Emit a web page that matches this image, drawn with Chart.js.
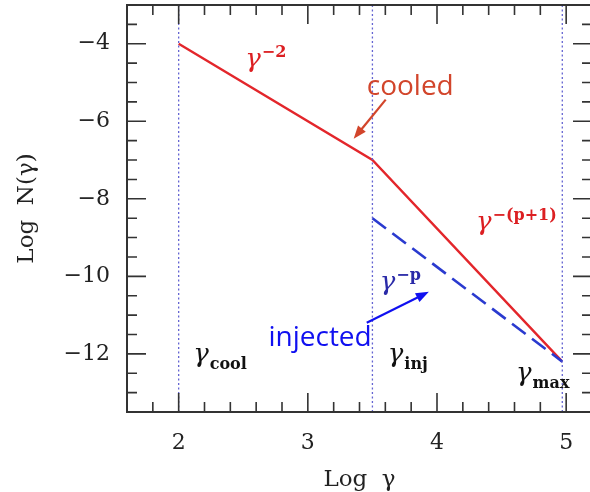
<!DOCTYPE html>
<html>
<head>
<meta charset="utf-8">
<script src="https://cdn.jsdelivr.net/npm/chart.js@4.4.1/dist/chart.umd.min.js"></script>
<style>
  html, body { margin: 0; padding: 0; background: #fff; overflow: hidden; }
  #wrap { width: 600px; height: 492px; }
</style>
</head>
<body>
<div id="wrap"><canvas id="spectrum"></canvas></div>
<script>
// Broken power-law electron spectrum, log N(gamma) against log gamma
const cooledX = [2, 3.5, 4.97];
const cooledY = [-4, -7, -12.2];
const injectedX = [3.5, 4.97];
const injectedY = [-8.5, -12.2];
const breakX = [2, 3.5, 4.97];          // gamma_cool, gamma_inj, gamma_max
const xTickLabels = [2, 3, 4, 5];
const yTickLabels = [-4, -6, -8, -10, -12];
const xRange = [1.6, 5.2];
const yRange = [-13.5, -3];

const SERIF = '"DejaVu Serif", "Liberation Serif", serif';
const SANS = '"Open Sans", "Noto Sans", sans-serif';

const toPoints = (xs, ys) => xs.map((x, i) => ({ x: x, y: ys[i] }));

// text placed in data units: gamma with super/subscript
const gammaLabels = [
  { x: 2.516, y: -4.59, script: '\u22122', sup: true, color: '#dc1f22' },
  { x: 4.302, y: -8.80, script: '\u2212(p+1)', sup: true, color: '#dc1f22' },
  { x: 3.557, y: -10.35, script: '\u2212p', sup: true, color: '#2a2aa8' },
  { x: 2.112, y: -12.20, script: 'cool', sup: false, color: '#111' },
  { x: 3.619, y: -12.20, script: 'inj', sup: false, color: '#111' },
  { x: 4.612, y: -12.71, script: 'max', sup: false, color: '#111' }
];
const callouts = [
  { text: 'cooled', x: 3.456, y: -5.31, from: [3.603, -5.44], to: [3.355, -6.45], color: '#d2452b' },
  { text: 'injected', x: 2.695, y: -11.79, from: [3.456, -11.2], to: [3.937, -10.40], color: '#1010f0' }
];

function gammaLabel(ctx, px, py, item) {
  ctx.fillStyle = item.color;
  ctx.textAlign = 'left';
  ctx.textBaseline = 'alphabetic';
  ctx.font = 'italic 26px ' + SERIF;
  ctx.fillText('\u03b3', px, py);
  const w = ctx.measureText('\u03b3').width;
  ctx.font = 'bold 16px ' + SERIF;
  ctx.fillText(item.script, px + w + 1, item.sup ? py - 10 : py + 7);
}

function arrow(ctx, x1, y1, x2, y2, color) {
  const a = Math.atan2(y2 - y1, x2 - x1);
  const head = 13, half = 5;
  ctx.strokeStyle = color;
  ctx.fillStyle = color;
  ctx.lineWidth = 2.2;
  ctx.beginPath();
  ctx.moveTo(x1, y1);
  ctx.lineTo(x2 - head * Math.cos(a) * 0.8, y2 - head * Math.sin(a) * 0.8);
  ctx.stroke();
  ctx.beginPath();
  ctx.moveTo(x2, y2);
  ctx.lineTo(x2 - head * Math.cos(a) + half * Math.sin(a), y2 - head * Math.sin(a) - half * Math.cos(a));
  ctx.lineTo(x2 - head * Math.cos(a) - half * Math.sin(a), y2 - head * Math.sin(a) + half * Math.cos(a));
  ctx.closePath();
  ctx.fill();
}

// box frame with inward ticks on all four sides
const framePlugin = {
  id: 'frame',
  afterDatasetsDraw(chart) {
    const { ctx, chartArea: { left, right, top, bottom } } = chart;
    const xs = chart.scales.x, ys = chart.scales.y;
    ctx.save();
    ctx.strokeStyle = '#333';
    ctx.lineWidth = 2;
    ctx.strokeRect(left, top, right - left, bottom - top);

    ctx.lineWidth = 1.6;
    ctx.beginPath();
    for (let v = xRange[0]; v <= xRange[1] + 1e-6; v += 0.2) {
      const val = Math.round(v * 10) / 10;
      const len = xTickLabels.includes(val) ? 19 : 10;
      const px = xs.getPixelForValue(val);
      ctx.moveTo(px, bottom); ctx.lineTo(px, bottom - len);
      ctx.moveTo(px, top); ctx.lineTo(px, top + len);
    }
    for (let v = yRange[0]; v <= yRange[1] + 1e-6; v += 0.5) {
      const len = yTickLabels.includes(v) ? 19 : 10;
      const py = ys.getPixelForValue(v);
      ctx.moveTo(left, py); ctx.lineTo(left + len, py);
      ctx.moveTo(right, py); ctx.lineTo(right - len, py);
    }
    ctx.stroke();
    ctx.restore();
  },
  afterDraw(chart) {
    const { ctx } = chart;
    const xs = chart.scales.x, ys = chart.scales.y;
    ctx.save();
    gammaLabels.forEach(item => {
      gammaLabel(ctx, xs.getPixelForValue(item.x), ys.getPixelForValue(item.y), item);
    });
    callouts.forEach(c => {
      ctx.font = '28px ' + SANS;
      ctx.fillStyle = c.color;
      ctx.textAlign = 'left';
      ctx.textBaseline = 'alphabetic';
      ctx.fillText(c.text, xs.getPixelForValue(c.x), ys.getPixelForValue(c.y));
      arrow(ctx,
        xs.getPixelForValue(c.from[0]), ys.getPixelForValue(c.from[1]),
        xs.getPixelForValue(c.to[0]), ys.getPixelForValue(c.to[1]), c.color);
    });
    ctx.restore();
  }
};

const breakLines = breakX.map(x => ({
  data: [{ x: x, y: yRange[0] }, { x: x, y: yRange[1] }],
  borderColor: '#6464d2',
  borderWidth: 1.3,
  borderDash: [2, 2.5],
  pointRadius: 0
}));

new Chart(document.getElementById('spectrum'), {
  type: 'line',
  data: {
    datasets: [
      ...breakLines,
      {
        label: 'injected',
        data: toPoints(injectedX, injectedY),
        borderColor: '#2a3acf',
        borderWidth: 2.6,
        borderDash: [17, 8],
        pointRadius: 0
      },
      {
        label: 'cooled',
        data: toPoints(cooledX, cooledY),
        borderColor: '#e3262b',
        borderWidth: 2.4,
        pointRadius: 0
      }
    ]
  },
  options: {
    responsive: true,
    maintainAspectRatio: false,
    animation: false,
    layout: { padding: { top: 5, right: 8, left: 0, bottom: 0 } },
    plugins: { legend: { display: false }, tooltip: { enabled: false } },
    scales: {
      x: {
        type: 'linear',
        min: xRange[0],
        max: xRange[1],
        grid: { display: false, drawTicks: false },
        border: { display: false },
        afterBuildTicks: s => { s.ticks = xTickLabels.map(v => ({ value: v })); },
        afterFit: s => { s.height = 80; s.paddingLeft = 0; s.paddingRight = 0; },
        ticks: {
          color: '#222',
          padding: 18,
          maxRotation: 0,
          font: { family: SERIF, size: 22 },
          callback: v => String(v)
        },
        title: {
          display: true,
          text: 'Log  \u03b3',
          color: '#222',
          padding: 0,
          font: { family: SERIF, size: 23, lineHeight: 1 }
        }
      },
      y: {
        type: 'linear',
        min: yRange[0],
        max: yRange[1],
        grid: { display: false, drawTicks: false },
        border: { display: false },
        afterBuildTicks: s => { s.ticks = yTickLabels.map(v => ({ value: v })); },
        afterFit: s => { s.width = 127; s.paddingTop = 0; s.paddingBottom = 0; },
        ticks: {
          color: '#222',
          padding: 17,
          font: { family: SERIF, size: 22 },
          callback: v => '\u2212' + Math.abs(v)
        },
        title: {
          display: true,
          text: 'Log  N(\u03b3)',
          color: '#222',
          padding: 16,
          font: { family: SERIF, size: 23, lineHeight: 1 }
        }
      }
    }
  },
  plugins: [framePlugin]
});
</script>
</body>
</html>
